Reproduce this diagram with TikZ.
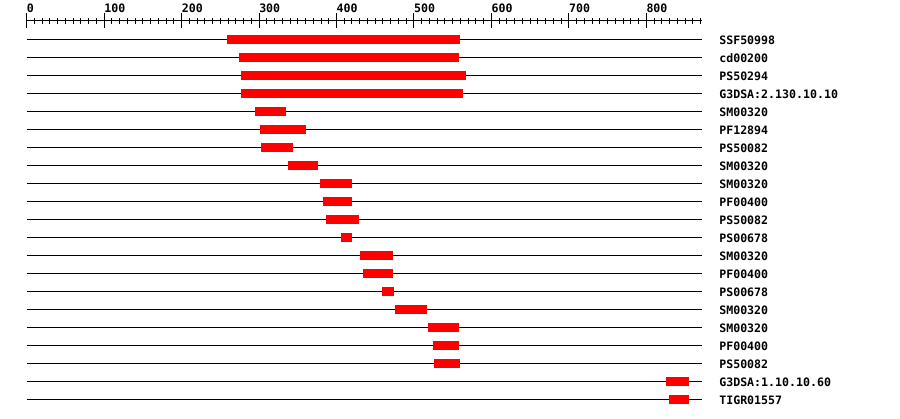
\documentclass[tikz,border=0pt]{standalone}
\usepackage{fontspec}
\setmonofont{DejaVu Sans Mono}
\begin{document}
\begin{tikzpicture}[x=0.7745pt, y=-1pt,
  every node/.style={font=\ttfamily\bfseries\fontsize{11.6}{12}\selectfont, inner sep=0pt},
  track/.style={black, line width=1pt},
  tickmark/.style={black, line width=1pt},
  hit/.style={fill=red}]
\useasboundingbox (-26.7pt,0pt) rectangle (873.3pt,-418pt);
% sequence ruler
\coordinate (ax0) at (0,20.5);
\coordinate (ax1) at (872,20.5);
\draw[tickmark] (ax0) -- (ax1);
\foreach \t in {0,10,...,870}
  \draw[tickmark] (\t,18) -- (\t,24);
\foreach \t in {0,100,...,800} {
  \draw[tickmark] (\t,13) -- (\t,28);
  \node[anchor=base west] (t\t) at (\t,12) {\t};
}
% one track per signature hit
\foreach \a/\b/\name [count=\i] in {
  259/560/SSF50998, 274/558/cd00200, 277/567/PS50294,
  277/563/G3DSA:2.130.10.10, 295/335/SM00320, 301/361/PF12894,
  302/344/PS50082, 337/376/SM00320, 379/420/SM00320,
  383/420/PF00400, 387/429/PS50082, 406/420/PS00678,
  430/473/SM00320, 434/473/PF00400, 459/474/PS00678,
  476/517/SM00320, 518/558/SM00320, 525/558/PF00400,
  526/559/PS50082, 825/855/G3DSA:1.10.10.60, 829/855/TIGR01557} {
  \pgfmathsetmacro\y{21+18*\i}
  \coordinate (l\i) at (0,\y);
  \coordinate (r\i) at (872,\y);
  \draw[track] (l\i) -- (r\i);
  \fill[hit] (\a,\y-4.5) rectangle (\b,\y+4.5);
  \node[anchor=base west] (n\i) at (894,\y+5) {\name};
}
\end{tikzpicture}
\end{document}
